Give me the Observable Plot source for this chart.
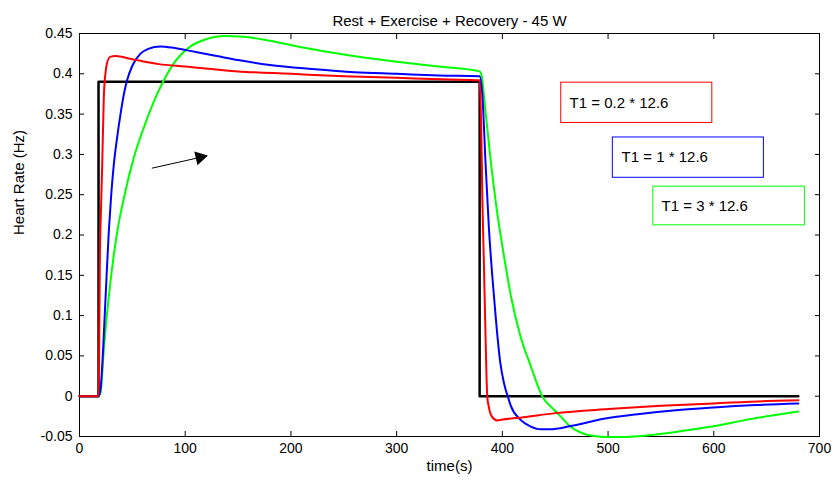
<!DOCTYPE html>
<html><head><meta charset="utf-8">
<script src="https://cdn.jsdelivr.net/npm/d3@7"></script>
<script src="https://cdn.jsdelivr.net/npm/@observablehq/plot@0.6"></script>
<style>body{margin:0;background:#fff;font-family:"Liberation Sans",Arial,sans-serif}</style>
</head><body><div id="chart"></div>
<script>
const title = "Rest + Exercise + Recovery - 45 W";
const xLabel = "time(s)";
const yLabel = "Heart Rate (Hz)";
const xTicks = [0, 100, 200, 300, 400, 500, 600, 700];
const yTicks = [-0.05, 0, 0.05, 0.1, 0.15, 0.2, 0.25, 0.3, 0.35, 0.4, 0.45];

// input (exercise step)
const inputT = [0, 18, 18, 378.5, 378.5, 680];
const inputV = [0, 0, 0.39, 0.39, 0, 0];

// T1 = 0.2 * 12.6 (red)
const redT = [0, 18, 18.5, 19.2, 20.3, 21.5, 23, 24.5, 26, 29, 34, 50, 75, 100, 150, 200, 250, 300, 350, 378.5,
  379.3, 380, 381, 382.5, 384, 385.7, 387, 390, 395, 400, 420, 450, 500, 550, 600, 650, 680];
const redV = [0, 0, 0.04, 0.163, 0.23, 0.288, 0.371, 0.40, 0.413, 0.421, 0.422, 0.418, 0.412, 0.409, 0.403, 0.400, 0.397, 0.395, 0.393, 0.392,
  0.37, 0.335, 0.25, 0.167, 0.08, 0, -0.012, -0.025, -0.030, -0.029, -0.026, -0.021, -0.016, -0.012, -0.009, -0.006, -0.005];

// T1 = 1 * 12.6 (blue)
const blueT = [0, 18, 20, 21.5, 24.6, 27.7, 30, 32.5, 35.5, 38.8, 42, 45, 50, 57.7, 65, 76.6, 90, 110, 130, 150, 180, 220, 260, 300, 340, 378.5,
  381, 384, 387.3, 392, 398, 401.4, 406, 408, 417, 426, 436, 445, 464.5, 496, 530, 559, 600, 640, 680];
const blueV = [0, 0, 0.01, 0.038, 0.121, 0.204, 0.25, 0.288, 0.32, 0.35, 0.375, 0.392, 0.41, 0.425, 0.431, 0.434, 0.432, 0.427, 0.422, 0.417, 0.411, 0.406, 0.402, 0.400, 0.398, 0.397,
  0.375, 0.292, 0.208, 0.125, 0.042, 0.017, -0.004, -0.012, -0.029, -0.037, -0.041, -0.041, -0.037, -0.028, -0.022, -0.018, -0.014, -0.011, -0.009];

// T1 = 3 * 12.6 (green)
const greenT = [0, 18, 20, 23, 29.3, 35.7, 42, 51.4, 60.8, 73.5, 89.2, 105, 120, 137, 155, 180, 210, 250, 300, 340, 378.5,
  380, 384, 389, 395, 401.4, 408, 417, 426.7, 437.7, 448.7, 455, 464.5, 474, 485, 500, 515, 530, 555, 581, 605, 628, 655, 680];
const greenV = [0, 0, 0.005, 0.058, 0.142, 0.204, 0.246, 0.296, 0.333, 0.375, 0.413, 0.434, 0.443, 0.447, 0.446, 0.441, 0.433, 0.424, 0.415, 0.409, 0.403,
  0.400, 0.354, 0.292, 0.229, 0.175, 0.125, 0.075, 0.038, 0, -0.0165, -0.025, -0.038, -0.045, -0.049, -0.0505, -0.0505, -0.0495, -0.046, -0.041, -0.036, -0.030, -0.024, -0.019];

// annotation boxes (data coordinates) and labels
const noteLabels = ["T1 = 0.2 * 12.6", "T1 = 1 * 12.6", "T1 = 3 * 12.6"];
const noteColors = ["#ff0000", "#0000ff", "#00ff00"];
const noteBoxX1 = [455.7, 504.5, 542.8];
const noteBoxX2 = [598.6, 647.4, 686.2];
const noteBoxY1 = [0.339, 0.271, 0.212];
const noteBoxY2 = [0.389, 0.321, 0.260];
const noteTextX = [463.6, 512.8, 550.6];
const noteTextY = [0.364, 0.296, 0.236];

// arrow annotation
const arrowX = [68.8, 120];
const arrowY = [0.283, 0.298];

const toRows = (T, V) => T.map((t, i) => ({t, v: V[i]}));
const input = toRows(inputT, inputV);
const red = toRows(redT, redV);
const blue = toRows(blueT, blueV);
const green = toRows(greenT, greenV);
const notes = noteLabels.map((label, i) => ({label, color: noteColors[i],
  x1: noteBoxX1[i], x2: noteBoxX2[i], y1: noteBoxY1[i], y2: noteBoxY2[i], tx: noteTextX[i], ty: noteTextY[i]}));

const font = "Liberation Sans, Arial, sans-serif";
const tickFmt = d => String(d);

const chart = Plot.plot({
  width: 834,
  height: 486,
  marginLeft: 79,
  marginRight: 15,
  marginTop: 33,
  marginBottom: 50,
  style: {fontFamily: font, fontSize: "14px", background: "#fff", color: "#000"},
  x: {domain: [0, 700]},
  y: {domain: [-0.05, 0.45]},
  marks: [
    Plot.frame({stroke: "#000", strokeWidth: 1}),
    Plot.axisX({anchor: "bottom", ticks: xTicks, tickSize: -5, tickPadding: 12, tickFormat: tickFmt, label: null, fontSize: 14}),
    Plot.axisX({anchor: "top", ticks: xTicks, tickSize: -5, tickFormat: () => "", label: null}),
    Plot.axisY({anchor: "left", ticks: yTicks, tickSize: -5, tickPadding: 12, tickFormat: tickFmt, label: null, fontSize: 14, letterSpacing: "0.5px"}),
    Plot.axisY({anchor: "right", ticks: yTicks, tickSize: -5, tickFormat: () => "", label: null}),
    Plot.line(input, {x: "t", y: "v", stroke: "#000", strokeWidth: 2.5}),
    Plot.line(green, {x: "t", y: "v", stroke: "#00ff00", strokeWidth: 2, curve: "monotone-x"}),
    Plot.line(blue, {x: "t", y: "v", stroke: "#0000ff", strokeWidth: 2, curve: "monotone-x"}),
    Plot.line(red, {x: "t", y: "v", stroke: "#ff0000", strokeWidth: 2, curve: "monotone-x"}),
    Plot.arrow([{x1: arrowX[0], y1: arrowY[0], x2: arrowX[1], y2: arrowY[1]}], {x1: "x1", y1: "y1", x2: "x2", y2: "y2", stroke: "#000", strokeWidth: 1, headLength: 0}),
    Plot.dot([{x: arrowX[0] + 0.88 * (arrowX[1] - arrowX[0]), y: arrowY[0] + 0.88 * (arrowY[1] - arrowY[0])}], {x: "x", y: "y", symbol: "triangle", r: 4.3, fill: "#000", stroke: "#000", rotate: 77}),
    Plot.rect(notes, {x1: "x1", x2: "x2", y1: "y1", y2: "y2", stroke: "color", fill: "#fff", strokeWidth: 1}),
    Plot.text(notes, {x: "tx", y: "ty", text: "label", textAnchor: "start", fontSize: 15, fill: "#000"}),
    Plot.text([title], {frameAnchor: "top", dy: -18, fontSize: 15, letterSpacing: "0.5px", fill: "#000"}),
    Plot.text([xLabel], {frameAnchor: "bottom", dy: 34, fontSize: 15, letterSpacing: "0.5px", fill: "#000"}),
    Plot.text([yLabel], {frameAnchor: "left", dx: -60, rotate: -90, fontSize: 15, letterSpacing: "0.5px", fill: "#000"})
  ]
});
document.getElementById("chart").appendChild(chart);
</script>
</body></html>
